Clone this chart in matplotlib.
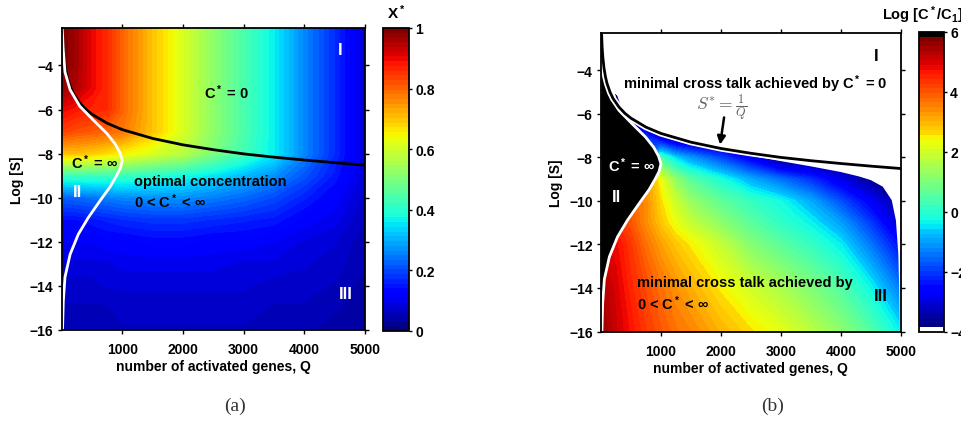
import numpy as np
import matplotlib
matplotlib.use('Agg')
import matplotlib.pyplot as plt
from matplotlib.colors import ListedColormap, Normalize
import matplotlib.cm as cm

plt.rcParams['font.family'] = ['Liberation Sans', 'DejaVu Sans']
plt.rcParams['font.weight'] = 'bold'
plt.rcParams['axes.labelweight'] = 'bold'
plt.rcParams['mathtext.fontset'] = 'custom'
plt.rcParams['mathtext.rm'] = 'Liberation Sans:bold'
plt.rcParams['mathtext.it'] = 'Liberation Sans:bold'
plt.rcParams['mathtext.bf'] = 'Liberation Sans:bold'

# %%
# grid: X* over (Q, log S), rows bottom -> top
q_a = [0, 250, 500, 750, 1000, 1500, 2000, 2500, 3000, 3500, 4000, 4500, 5000]
logs_a = [-16, -15, -14, -13, -12, -11, -10, -9, -8, -7, -6, -5, -4, -2.3]
x_star = [
    [0.05, 0.05, 0.05, 0.05, 0.06, 0.06, 0.06, 0.06, 0.06, 0.05, 0.05, 0.04, 0.03],
    [0.06, 0.06, 0.06, 0.06, 0.07, 0.07, 0.07, 0.07, 0.07, 0.06, 0.06, 0.05, 0.035],
    [0.07, 0.07, 0.07, 0.08, 0.08, 0.08, 0.08, 0.08, 0.08, 0.07, 0.07, 0.06, 0.04],
    [0.09, 0.09, 0.09, 0.09, 0.10, 0.10, 0.10, 0.10, 0.09, 0.09, 0.08, 0.07, 0.05],
    [0.11, 0.11, 0.11, 0.12, 0.12, 0.13, 0.13, 0.12, 0.12, 0.11, 0.09, 0.08, 0.05],
    [0.14, 0.14, 0.15, 0.16, 0.17, 0.18, 0.18, 0.17, 0.16, 0.15, 0.12, 0.10, 0.06],
    [0.22, 0.23, 0.24, 0.25, 0.26, 0.27, 0.27, 0.25, 0.23, 0.20, 0.16, 0.12, 0.07],
    [0.42, 0.42, 0.42, 0.42, 0.42, 0.40, 0.38, 0.35, 0.31, 0.27, 0.21, 0.15, 0.08],
    [0.70, 0.70, 0.69, 0.67, 0.65, 0.61, 0.57, 0.50, 0.43, 0.36, 0.26, 0.17, 0.08],
    [0.84, 0.82, 0.81, 0.80, 0.78, 0.70, 0.61, 0.52, 0.44, 0.36, 0.26, 0.17, 0.08],
    [0.90, 0.88, 0.87, 0.86, 0.80, 0.70, 0.61, 0.52, 0.44, 0.36, 0.26, 0.17, 0.08],
    [0.97, 0.95, 0.90, 0.86, 0.80, 0.70, 0.61, 0.52, 0.44, 0.36, 0.26, 0.17, 0.08],
    [1.00, 0.96, 0.90, 0.86, 0.80, 0.70, 0.61, 0.52, 0.44, 0.36, 0.26, 0.17, 0.08],
    [1.00, 0.96, 0.90, 0.86, 0.80, 0.70, 0.61, 0.52, 0.44, 0.36, 0.26, 0.17, 0.08],
]

# grid: Log[C*/C1], rows bottom -> top (-3.9 = white, region I)
q_b = [0, 250, 500, 750, 1000, 1250, 1500, 2000, 2500, 3000, 3500, 4000, 4500, 5000]
logs_b = [-16, -14, -12, -11, -10, -9, -8, -7, -6, -5, -4, -2.3]
log_c = [
    [5.6, 5.1, 4.7, 4.3, 4.0, 3.7, 3.5, 3.0, 2.6, 2.25, 1.75, 1.2, 0.5, -0.4],
    [5.4, 5.0, 4.5, 4.1, 3.7, 3.35, 3.05, 2.5, 2.0, 1.55, 1.05, 0.5, -0.3, -1.4],
    [5.0, 4.8, 4.3, 3.7, 3.2, 2.8, 2.5, 1.85, 1.1, 0.6, 0.15, -0.4, -1.4, -2.5],
    [4.8, 4.5, 4.0, 3.4, 2.8, 2.3, 1.85, 1.2, 0.6, 0.1, -0.35, -1.0, -2.0, -3.2],
    [4.5, 4.2, 3.9, 3.4, 2.6, 1.9, 1.3, 0.65, 0.15, -0.25, -0.9, -1.8, -2.7, -3.6],
    [4.0, 3.8, 3.6, 3.4, 2.3, 1.2, 0.55, -0.15, -0.9, -1.5, -2.1, -2.9, -3.6, -3.9],
    [-1.5, -1.5, -1.5, -1.5, 0.3, -0.6, -1.1, -1.9, -2.8, -3.9, -3.9, -3.9, -3.9, -3.9],
    [-2.5, -2.5, -2.5, -2.2, -3.3, -3.9, -3.9, -3.9, -3.9, -3.9, -3.9, -3.9, -3.9, -3.9],
    [-3.5, -3.5, -3.9, -3.9, -3.9, -3.9, -3.9, -3.9, -3.9, -3.9, -3.9, -3.9, -3.9, -3.9],
    [-3.9] * 14,
    [-3.9] * 14,
    [-3.9] * 14,
]

# S* = 1/Q boundary (black curve)
bound_q = [10, 15, 20, 30, 50, 75, 100, 150, 200, 300, 400, 500, 750, 1000,
           1500, 2000, 2500, 3000, 3500, 4000, 4500, 5000]
bound_s = [-2.30, -2.71, -3.00, -3.40, -3.91, -4.32, -4.61, -5.01, -5.30, -5.70, -5.99,
           -6.21, -6.62, -6.91, -7.31, -7.60, -7.82, -8.01, -8.16, -8.29, -8.41, -8.52]

# region II boundary (white curve)
white_q = [10, 25, 56, 140, 300, 520, 745, 880, 960, 1000, 970, 905, 800, 635,
           440, 275, 140, 56, 28, 15]
white_s = [-2.3, -3.2, -4.3, -5.1, -5.85, -6.47, -7.08, -7.55, -7.95, -8.3, -8.65,
           -9.0, -9.5, -10.13, -10.9, -11.66, -12.57, -13.6, -14.7, -16.0]

# edge of the coloured area in (b) (top and right)
edge_q = [380, 500, 700, 1000, 1500, 2000, 2500, 3000, 3500, 4000, 4300, 4500,
          4700, 4850, 4920, 4960, 4975, 4985, 4990]
edge_s = [-6.05, -6.28, -6.62, -6.97, -7.38, -7.68, -7.93, -8.18, -8.42, -8.68, -8.88,
          -9.05, -9.35, -9.97, -10.9, -12.44, -13.98, -15.8, -16.0]

# %%
W, H = 962, 427
fig = plt.figure(figsize=(W / 100, H / 100), dpi=100)

def px(l, t, r, b):
    return [l / W, 1 - b / H, (r - l) / W, (b - t) / H]

ax_a = fig.add_axes(px(61.6, 29, 365, 331))
cax_a = fig.add_axes(px(383, 29, 409, 332))
ax_b = fig.add_axes(px(601, 34, 900.7, 332.5))
cax_b = fig.add_axes(px(919, 33, 944, 333))

jet64 = plt.get_cmap('jet', 64)
cmap_b = ListedColormap([(1, 1, 1)] + [jet64(i) for i in np.linspace(0, 1, 62)] + [(0, 0, 0)])

# panel (a)
ax_a.contourf(q_a, logs_a, np.array(x_star), levels=np.linspace(0, 1, 65), cmap=jet64,
              vmin=0, vmax=1)
ax_a.plot(bound_q, bound_s, color='k', lw=2)
ax_a.plot(white_q, white_s, color='w', lw=2)

txt = dict(fontsize=10.5, fontweight='bold')
ax_a.text(4594, -3.27, 'I', color='w', fontsize=12, ha='center', va='center')
ax_a.text(2724, -5.17, 'C$^*$ = 0', color='k', ha='center', va='center', **txt)
ax_a.text(150, -8.35, 'C$^*$ = ∞', color='k', ha='left', va='center', **txt)
ax_a.text(260, -9.72, 'II', color='w', fontsize=12, ha='center', va='center')
ax_a.text(1195, -9.22, 'optimal concentration', color='k', ha='left', va='center', **txt)
ax_a.text(1195, -10.13, '0 < C$^*$ < ∞', color='k', ha='left', va='center', **txt)
ax_a.text(4677, -14.33, 'III', color='w', fontsize=12, ha='center', va='center')

# panel (b)
ax_b.contourf(q_b, logs_b, np.array(log_c), levels=np.linspace(-4, 6, 65), cmap=cmap_b,
              vmin=-4, vmax=6)
poly_q = edge_q + [5001, 5001, 0, 0] + white_q[4::-1][:-1]
poly_s = edge_s + [-16.1, -2.2, -2.2, -2.3] + white_s[4::-1][:-1]
ax_b.fill(poly_q, poly_s, color='w', lw=0, zorder=2)
ax_b.fill_betweenx(white_s, 0, white_q, color='k', lw=0, zorder=2)
ax_b.plot(white_q, white_s, color='w', lw=2, zorder=3)
ax_b.plot(bound_q, bound_s, color='w', lw=4.5, zorder=3)
ax_b.plot(bound_q, bound_s, color='k', lw=2, zorder=4)

ax_b.text(4598, -3.34, 'I', color='k', fontsize=12, ha='center', va='center', zorder=5)
ax_b.text(372, -4.6, 'minimal cross talk achieved by C$^*$ = 0', color='k', ha='left',
          va='center', zorder=5, **txt)
ax_b.text(2013, -5.68, r'$S^{*} = \frac{1}{Q}$', color='#606060', fontsize=12.5,
          math_fontfamily='cm', ha='center', va='center', zorder=5)
ax_b.annotate('', xy=(1980, -7.55), xytext=(2060, -6.05), zorder=5,
              arrowprops=dict(arrowstyle='-|>', color='k', lw=1.8, mutation_scale=12))
ax_b.text(122, -8.35, 'C$^*$ = ∞', color='w', ha='left', va='center', zorder=5, **txt)
ax_b.text(262, -9.79, 'II', color='w', fontsize=12, ha='center', va='center', zorder=5)
ax_b.text(595, -13.75, 'minimal cross talk achieved by', color='k', ha='left',
          va='center', zorder=5, **txt)
ax_b.text(595, -14.68, '0 < C$^*$ < ∞', color='k', ha='left', va='center', zorder=5, **txt)
ax_b.text(4670, -14.37, 'III', color='k', fontsize=12, ha='center', va='center', zorder=5)

for ax in (ax_a, ax_b):
    ax.set_xlim(0, 5000)
    ax.set_ylim(-16, -2.3)
    ax.set_xticks([1000, 2000, 3000, 4000, 5000])
    ax.set_yticks([-4, -6, -8, -10, -12, -14, -16])
    ax.tick_params(direction='out', length=3, width=1, top=True, right=True, labelsize=10)
    ax.tick_params(axis='x', pad=6)
    ax.tick_params(axis='y', pad=3)
    ax.set_xlabel('number of activated genes, Q', fontsize=10, labelpad=2)
    ax.set_ylabel('Log [S]', fontsize=10, labelpad=4)
    for sp in ax.spines.values():
        sp.set_linewidth(1.3)
        sp.set_zorder(6)

# colorbars
sm_a = cm.ScalarMappable(norm=Normalize(0, 1), cmap=jet64)
cb_a = fig.colorbar(sm_a, cax=cax_a, ticks=[0, 0.2, 0.4, 0.6, 0.8, 1])
cb_a.ax.set_yticklabels(['0', '0.2', '0.4', '0.6', '0.8', '1'])
sm_b = cm.ScalarMappable(norm=Normalize(-4, 6), cmap=cmap_b)
cb_b = fig.colorbar(sm_b, cax=cax_b, ticks=[-4, -2, 0, 2, 4, 6])
for cb in (cb_a, cb_b):
    cb.outline.set_linewidth(1.3)
    cb.ax.tick_params(direction='out', length=2.5, width=1, labelsize=10, pad=2)

fig.text(396 / W, 1 - 13 / H, 'X$^*$', ha='center', va='center', fontsize=11)
fig.text(882 / W, 1 - 15 / H, 'Log [C$^*$/C$_1$]', ha='left', va='center', fontsize=10.5)

fig.text(235 / W, 1 - 406 / H, '(a)', family='Liberation Serif', fontweight='normal',
         fontsize=14, ha='center', va='center', color='#333333')
fig.text(773 / W, 1 - 406 / H, '(b)', family='Liberation Serif', fontweight='normal',
         fontsize=14, ha='center', va='center', color='#333333')

fig.savefig('out.png', dpi=100)
